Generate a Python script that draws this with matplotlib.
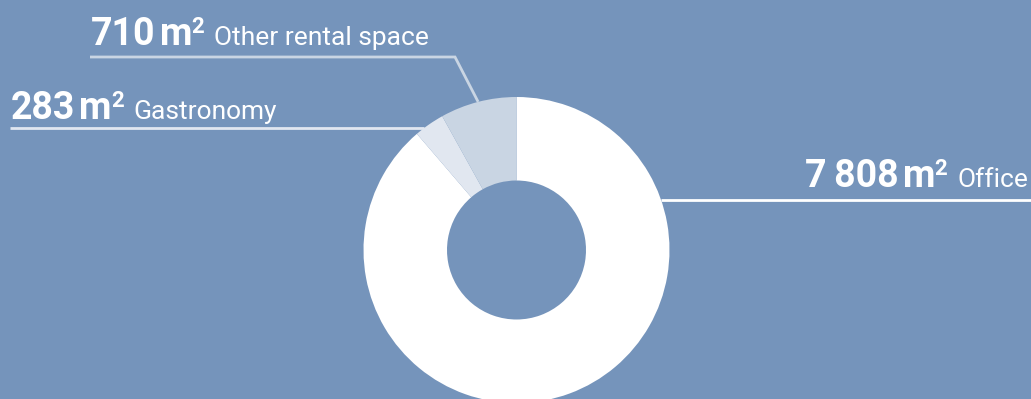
import numpy as np
import matplotlib
matplotlib.use("Agg")
import matplotlib.pyplot as plt
import matplotlib.transforms as mtransforms

# ---- data ----
categories = ["Office", "Gastronomy", "Other rental space"]
areas = [7808, 283, 710]
unit = "m"
unit_sup = "2"

# ---- style ----
W, H, DPI = 1031, 399, 100
bg = "#7594BB"
slice_colors = ["#FFFFFF", "#E1E7F0", "#C9D5E3"]
line_colors = ["#FFFFFF", "#E1E7F0", "#C9D5E3"]
cx, cy = 516.5, 250.0     # donut centre (pixels, y down)
R_out, R_in = 153.0, 69.5

fig = plt.figure(figsize=(W / DPI, H / DPI), dpi=DPI, facecolor=bg)
ax = fig.add_axes([0, 0, 1, 1])
ax.set_facecolor(bg)
ax.set_xlim(0, W)
ax.set_ylim(H, 0)          # y downward like pixel coordinates
ax.set_aspect("equal")
ax.axis("off")

wedges, _ = ax.pie(areas, colors=slice_colors, startangle=-90, counterclock=True,
                   center=(cx, cy), radius=R_out,
                   wedgeprops=dict(width=R_out - R_in, linewidth=0))
ax.set_xlim(0, W)
ax.set_ylim(H, 0)

renderer = fig.canvas.get_renderer()
pix = mtransforms.Affine2D().scale(1, -1).translate(0, H)


def fmt(v):
    return f"{v:,}".replace(",", "\u2009")


def place_label(x, base, value, label, align="left"):
    parts = [
        (fmt(value), 27, "bold", 0, 4),
        (unit, 27, "bold", 0, -1),
        (unit_sup, 16, "bold", -12, 10),
        (label, 19, "normal", 0, 0),
    ]
    texts, widths = [], []
    for s, size, weight, dy, gap in parts:
        t = fig.text(0, 0, s, fontsize=size, fontweight=weight, color="white",
                     family=["Roboto", "DejaVu Sans"], va="baseline", ha="left",
                     transform=pix)
        bb = t.get_window_extent(renderer)
        texts.append(t)
        widths.append(bb.width)
    total = sum(widths) + sum(p[4] for p in parts[:-1])
    xx = x if align == "left" else x - total
    for t, w, p in zip(texts, widths, parts):
        t.set_position((xx, base + p[3]))
        xx += w + p[4]


def edge_point_at_y(y):
    return np.sqrt(max(R_out ** 2 - (y - cy) ** 2, 0.0))


def wedge_mid(w):
    a = np.deg2rad((w.theta1 + w.theta2) / 2.0)
    return cx + R_out * np.cos(a), cy + R_out * np.sin(a)


# Office: horizontal leader to the right
y_off = 200
x_edge = cx + edge_point_at_y(y_off)
ax.plot([x_edge, W], [y_off, y_off], color=line_colors[0], lw=2, solid_capstyle="butt")
place_label(1028, 187, areas[0], categories[0], align="right")

# Gastronomy: horizontal leader to the left
y_gas = 128
x_edge = cx - edge_point_at_y(y_gas)
ax.plot([10, x_edge], [y_gas, y_gas], color=line_colors[1], lw=2, solid_capstyle="butt")
place_label(11, 119, areas[1], categories[1])

# Other rental space: leader bending to slice middle
mx, my = wedge_mid(wedges[2])
y_oth = 57
ax.plot([90, 455, mx], [y_oth, y_oth, my], color=line_colors[2], lw=2,
        solid_capstyle="butt", solid_joinstyle="miter")
place_label(91, 45, areas[2], categories[2])

fig.savefig("out.png", dpi=DPI, facecolor=bg)
